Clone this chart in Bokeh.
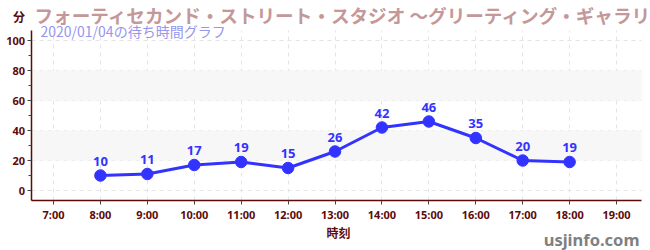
from bokeh.plotting import figure
from bokeh.models import (ColumnDataSource, LabelSet, Label, BoxAnnotation, FixedTicker, Range1d)
from bokeh.core.properties import value
from bokeh.embed import file_html
from bokeh.resources import INLINE

hours = [8, 9, 10, 11, 12, 13, 14, 15, 16, 17, 18]
waits = [10, 11, 17, 19, 15, 26, 42, 46, 35, 20, 19]
tick_hours = [7, 8, 9, 10, 11, 12, 13, 14, 15, 16, 17, 18, 19]
tick_labels = [f"{h}:00" for h in tick_hours]
y_ticks = [0, 20, 40, 60, 80, 100]
y_minor = [10, 30, 50, 70, 90]
bands = [(20, 40), (60, 80)]

title_text = "フォーティセカンド・ストリート・スタジオ ～グリーティング・ギャラリ"
subtitle_text = "2020/01/04の待ち時間グラフ"
unit_text = "分"
xlabel_text = "時刻"
watermark = "usjinfo.com"

JFONT = "Noto Sans CJK JP"
LFONT = "Noto Sans"
MAROON = "#5c0a0a"
BLUE = "#3333ff"

# plot area (frame = whole canvas; axes are pinned inside it)
X0, X1 = 5.8704, 19.7238
Y0, Y1 = -40.0, 126.667
AX_X = 6.5205      # where the y axis sits
AX_Y = -6.667      # where the x axis sits
X_END = 19.532
Y_END = 106.667

src = ColumnDataSource(dict(x=hours, y=waits, t=[str(v) for v in waits]))

p = figure(width=650, height=250, output_backend="svg", toolbar_location=None,
           x_range=Range1d(X0, X1), y_range=Range1d(Y0, Y1),
           min_border=0, min_border_left=0, min_border_right=0,
           min_border_top=0, min_border_bottom=0)
p.outline_line_color = None
p.background_fill_color = "white"
p.border_fill_color = "white"

for lo, hi in bands:
    p.add_layout(BoxAnnotation(bottom=lo, top=hi, left=AX_X, right=X_END,
                               fill_color="#f7f7f7", fill_alpha=1.0,
                               line_color=None, level="underlay"))

p.xgrid.grid_line_color = "#e4e4e4"
p.xgrid.grid_line_dash = "4 4"
p.xgrid.cross_bounds = (AX_Y, Y_END)
p.ygrid.grid_line_color = "#e4e4e4"
p.ygrid.grid_line_dash = "4 4"
p.ygrid.cross_bounds = (AX_X, X_END)

p.xaxis.ticker = FixedTicker(ticks=tick_hours)
p.xaxis.major_label_overrides = {h: l for h, l in zip(tick_hours, tick_labels)}
p.yaxis.ticker = FixedTicker(ticks=y_ticks, minor_ticks=y_minor)
p.xaxis.fixed_location = AX_Y
p.yaxis.fixed_location = AX_X
p.xaxis.bounds = (AX_X, X_END)
p.yaxis.bounds = (AX_Y, Y_END)

for ax in (p.xaxis[0], p.yaxis[0]):
    ax.axis_line_color = MAROON
    ax.axis_line_width = 1.5
    ax.major_tick_line_color = "#444444"
    ax.major_label_text_color = MAROON
    ax.major_label_text_font = LFONT
    ax.major_label_text_font_style = "bold"
    ax.major_label_text_font_size = "11px"
    ax.major_label_standoff = 2
    ax.major_tick_out = 4
    ax.major_tick_in = 0

p.xaxis.minor_tick_line_color = None
p.yaxis.minor_tick_line_color = "#dd0000"
p.yaxis.minor_tick_out = 3
p.yaxis.minor_tick_in = 0

p.line("x", "y", source=src, line_color=BLUE, line_width=3)
p.scatter("x", "y", source=src, size=11.5, fill_color=BLUE, line_color=BLUE)
p.add_layout(LabelSet(x="x", y="y", text="t", source=src, y_offset=10, text_align="center",
                      text_baseline="alphabetic", text_color=BLUE, text_font=value(LFONT),
                      text_font_style="bold", text_font_size="13px"))

# screen units: x from the left edge, y up from the bottom edge of the canvas
p.add_layout(Label(x=34, y=236.5, x_units="screen", y_units="screen", text=title_text,
                   text_font=JFONT, text_font_style="bold", text_font_size="18.6px",
                   text_color="#c49898", text_baseline="middle", text_align="left"))
p.add_layout(Label(x=40, y=220, x_units="screen", y_units="screen", text=subtitle_text,
                   text_font=JFONT, text_font_size="14px",
                   text_color="#9696ee", text_baseline="middle", text_align="left"))
p.add_layout(Label(x=18.5, y=234.5, x_units="screen", y_units="screen", text=unit_text,
                   text_font=JFONT, text_font_style="bold", text_font_size="12px",
                   text_color=MAROON, text_baseline="middle", text_align="center"))
p.add_layout(Label(x=338, y=18, x_units="screen", y_units="screen", text=xlabel_text,
                   text_font=JFONT, text_font_style="bold", text_font_size="12px",
                   text_color=MAROON, text_baseline="middle", text_align="center"))
p.add_layout(Label(x=639, y=11, x_units="screen", y_units="screen", text=watermark,
                   text_font=LFONT, text_font_style="bold", text_font_size="16.5px",
                   text_color="#808080", text_baseline="alphabetic", text_align="right"))

open("out.html", "w").write(file_html(p, INLINE))
